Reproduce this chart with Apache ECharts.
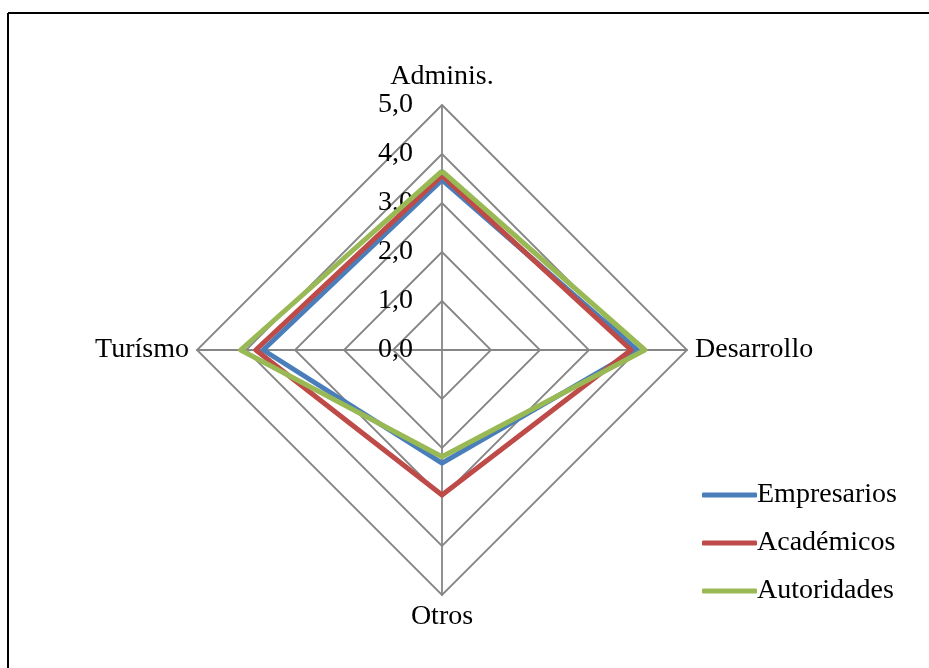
<!DOCTYPE html>
<html>
<head>
<meta charset="utf-8">
<script src="https://cdn.jsdelivr.net/npm/echarts@6/dist/echarts.min.js"></script>
<style>
html,body{margin:0;padding:0;background:#fff;}
#chart{width:929px;height:668px;}
</style>
</head>
<body>
<div id="chart"></div>
<script>
// Data (indicator order as drawn: top, left, bottom, right -> ECharts goes counter-clockwise)
var indicators = ['Adminis.', 'Turísmo', 'Otros', 'Desarrollo'];
var seriesNames = ['Empresarios', 'Académicos', 'Autoridades'];
var empresarios = [3.47, 3.65, 2.31, 3.98];
var academicos = [3.56, 3.80, 2.96, 3.86];
var autoridades = [3.65, 4.11, 2.18, 4.14];
var colors = ['#4A7EBB', '#BE4B48', '#98B954'];
var axisMax = 5;

var chart = echarts.init(document.getElementById('chart'));
var font = '"Liberation Serif", "Times New Roman", serif';

var indicatorOpts = indicators.map(function (n, i) {
  var o = { name: n, min: 0, max: axisMax };
  if (i === 0) {
    o.axisLabel = {
      show: true, margin: 29, color: '#000', fontSize: 28, fontFamily: font,
      formatter: function (v) { return v.toFixed(1).replace('.', ','); }
    };
  }
  return o;
});

var allValues = [empresarios, academicos, autoridades];

chart.setOption({
  animation: false,
  backgroundColor: '#fff',
  graphic: [
    { type: 'line', shape: { x1: 8, y1: 13, x2: 929, y2: 13 }, style: { stroke: '#000', lineWidth: 2 } },
    { type: 'line', shape: { x1: 8, y1: 13, x2: 8, y2: 668 }, style: { stroke: '#000', lineWidth: 2 } }
  ],
  legend: {
    orient: 'vertical',
    left: 697,
    top: 476,
    itemWidth: 55,
    itemHeight: 5,
    itemGap: 20,
    icon: 'roundRect',
    textStyle: { color: '#000', fontSize: 28, fontFamily: font, padding: [0, 0, 0, -5] },
    data: seriesNames
  },
  radar: {
    center: [442, 350],
    radius: 245,
    startAngle: 90,
    shape: 'polygon',
    splitNumber: 5,
    nameGap: 8,
    axisName: { color: '#000', fontSize: 28, fontFamily: font },
    axisLine: { lineStyle: { color: '#868686', width: 1.8 } },
    splitLine: { lineStyle: { color: '#868686', width: 1.8 } },
    splitArea: { show: false },
    axisTick: { show: false },
    axisLabel: { show: false },
    indicator: indicatorOpts
  },
  series: [{
    type: 'radar',
    symbol: 'none',
    data: seriesNames.map(function (n, i) {
      return {
        name: n,
        value: allValues[i],
        lineStyle: { color: colors[i], width: 5 },
        itemStyle: { color: colors[i] }
      };
    })
  }]
});
</script>
</body>
</html>
